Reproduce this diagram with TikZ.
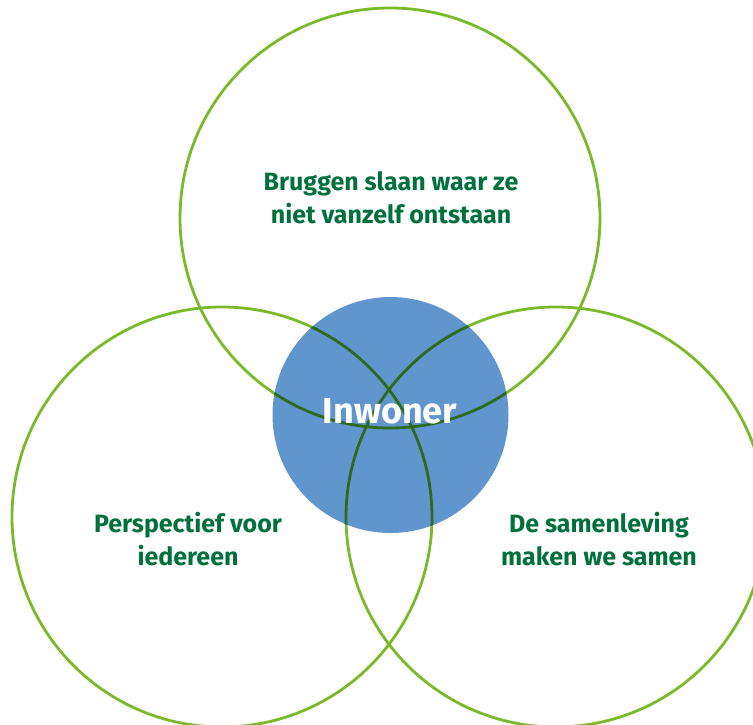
\documentclass[tikz,border=0pt]{standalone}
\usepackage{fontspec}
\setmainfont{Fira Sans}

\definecolor{ringgreen}{HTML}{7AB929}
\definecolor{ringdark}{HTML}{2C6A1C}
\definecolor{coreblue}{HTML}{6195CE}
\definecolor{textgreen}{HTML}{00703C}

\begin{document}
\begin{tikzpicture}[x = 1pt, y = -1pt, font = \bfseries]

	% Definitions

	\def\r{210}		% Radius of the outer rings
	\def\rc{118}		% Radius of the core

	\tikzset{
		ring/.style = {draw = ringgreen, line width = 2.8pt},
		label/.style = {text = textgreen, align = center, font = \fontsize{25}{33}\selectfont\bfseries}
	}

	\useasboundingbox (0, 0) rectangle (753, 724);

	% Draw rings

	\foreach \cx/\cy in {390/218, 222/517, 556/517}
		\draw [ring] (\cx, \cy) circle (\r);

	% Draw core

	\fill [coreblue] (390.5, 415) circle (\rc);

	\begin{scope}
		\clip (390.5, 415) circle (\rc);
		\foreach \cx/\cy in {390/218, 222/517, 556/517}
			\draw [ring, draw = ringdark] (\cx, \cy) circle (\r);
	\end{scope}

	% Labels

	\node [label] (bruggen) at (391, 198) {Bruggen slaan waar ze\\niet vanzelf ontstaan};
	\node [label] (perspectief) at (188, 539) {Perspectief voor\\iedereen};
	\node [label] (samenleving) at (599, 539) {De samenleving\\maken we samen};
	\node [text = white, font = \fontsize{36}{40}\selectfont\bfseries] (inwoner) at (390, 411) {Inwoner};

\end{tikzpicture}
\end{document}
